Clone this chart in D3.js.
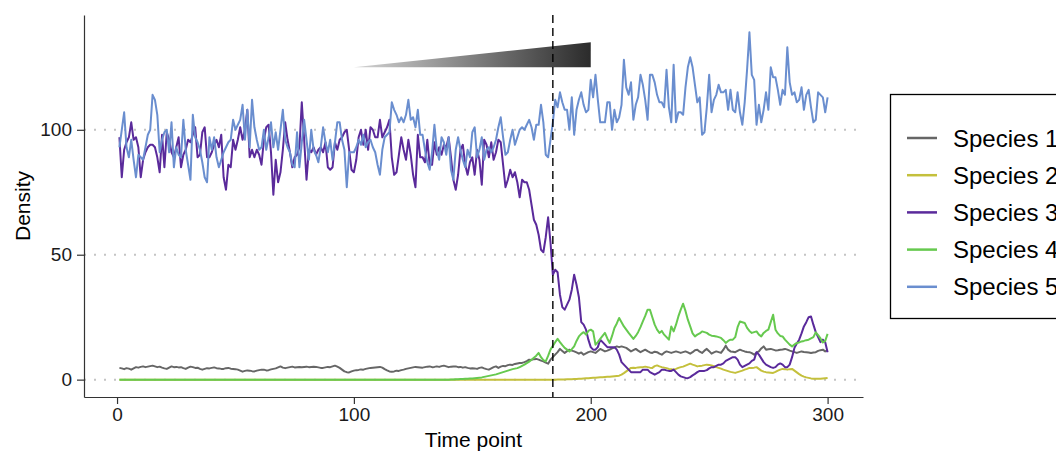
<!DOCTYPE html>
<html>
<head>
<meta charset="utf-8">
<script src="https://cdn.jsdelivr.net/npm/d3@7"></script>
<style>
  body { margin: 0; background: #fff; }
  svg { display: block; font-family: "Liberation Sans", Arial, Helvetica, sans-serif; }
</style>
</head>
<body>
<svg id="chart" width="1056" height="452"></svg>
<script>
const SPECIES = ["Species 1", "Species 2", "Species 3", "Species 4", "Species 5"];
const COLORS  = ["#666666", "#c4c03c", "#5a2a9b", "#66c94f", "#6a8ecf"];

// time points 1..300
const timePoints = d3.range(1, 301);

const species1 = [
  4.7,4.5,4.2,4.6,4.4,4.0,4.5,5.0,4.8,5.1, 5.3,5.0,5.2,5.4,5.6,5.3,5.0,5.2,4.8,4.5,
  4.3,4.8,5.3,5.0,5.1,4.9,5.0,4.6,4.3,4.8, 5.2,5.0,4.7,4.8,4.3,4.0,4.3,4.6,4.5,4.7,
  4.9,4.6,4.5,4.3,4.3,4.6,4.7,4.4,4.3,4.2, 4.0,3.6,3.2,3.5,3.7,3.6,3.4,3.3,3.6,3.8,
  4.0,4.0,3.7,3.8,4.1,4.3,4.5,4.9,5.3,4.8, 4.6,4.8,5.0,5.2,4.9,5.0,5.1,5.0,5.1,5.2,
  5.0,5.1,5.2,5.1,4.9,4.7,4.7,4.9,5.1,5.0, 5.3,5.6,5.2,4.7,4.0,3.3,3.0,2.9,3.3,3.6,
  3.8,3.9,4.1,4.0,4.3,4.5,4.7,4.8,4.9,5.0, 5.1,4.8,4.2,3.7,3.3,3.2,3.3,3.6,3.5,3.8,
  4.0,4.3,4.5,4.7,4.9,5.1,5.0,4.9,4.8,5.0, 5.2,5.3,5.0,5.1,5.3,5.1,5.4,5.6,5.3,5.0,
  5.2,5.3,5.3,5.0,5.1,4.8,5.0,4.7,4.5,4.6, 4.5,4.3,4.7,4.9,4.5,4.2,4.0,4.5,5.0,5.3,
  4.7,5.2,5.5,5.4,5.8,6.0,5.9,6.3,6.5,6.7, 6.7,7.0,7.4,8.0,7.9,8.2,8.3,8.0,7.6,7.3,
  6.8,6.4,8.0,9.0,10.0,11.0,12.3,11.5,10.7,11.4, 12.0,11.6,11.3,10.9,10.4,10.9,10.0,10.5,11.0,11.3,
  11.0,10.7,11.5,12.3,11.8,11.3,11.6,12.0,12.5,12.8, 13.3,13.0,13.3,13.0,12.7,12.0,11.3,11.8,12.3,11.6,
  11.0,11.5,12.0,11.4,10.9,10.7,11.2,11.0,10.4,10.0, 10.8,11.3,11.0,10.7,11.0,11.3,11.0,10.7,11.0,11.3,
  10.9,10.4,11.0,11.8,12.0,11.2,10.7,11.6,12.3,11.4, 10.4,10.9,11.3,11.0,10.7,12.0,13.6,12.0,11.3,11.2,
  11.0,11.5,12.0,11.6,11.3,11.1,11.0,10.6,10.0,10.8, 11.3,12.5,13.3,12.0,12.2,12.3,12.0,11.7,11.8,12.0,
  12.1,12.3,12.0,11.6,11.3,11.0,10.7,11.0,11.3,11.1, 11.0,10.9,10.7,10.9,11.0,11.5,11.8,12.0,11.3,11.7
];

const species2 = [
  0,0,0,0,0,0,0,0,0,0, 0,0,0,0,0,0,0,0,0,0, 0,0,0,0,0,0,0,0,0,0, 0,0,0,0,0,0,0,0,0,0,
  0,0,0,0,0,0,0,0,0,0, 0,0,0,0,0,0,0,0,0,0, 0,0,0,0,0,0,0,0,0,0, 0,0,0,0,0,0,0,0,0,0,
  0,0,0,0,0,0,0,0,0,0, 0,0,0,0,0,0,0,0,0,0, 0,0,0,0,0,0,0,0,0,0, 0,0,0,0,0,0,0,0,0,0,
  0,0,0,0,0,0,0,0,0,0, 0,0,0,0,0,0,0,0,0,0, 0,0,0,0,0,0,0,0,0,0, 0,0,0,0,0,0,0,0,0,0,
  0,0,0,0,0,0,0,0,0,0, 0,0,0,0,0,0,0,0,0,0, 0,0,0,0,0,
  0.05,0.05,0.1,0.1,0.15,0.2,0.2,0.25,0.3,0.35,
  0.4,0.5,0.55,0.6,0.7,0.75,0.8,0.9,0.95,1.0,
  1.1,1.15,1.2,1.3,1.4,1.5,1.6,2.0,2.6,3.3,
  4.0,4.7,4.8,4.7,4.9,5.0,5.0,5.2,5.0,4.8,
  4.7,5.4,5.7,5.3,5.0,4.8,4.6,4.3,4.2,4.0,
  4.3,4.7,5.0,5.2,5.6,6.0,6.4,6.0,5.7,5.3,
  5.5,5.6,5.8,6.0,5.9,5.7,5.4,5.0,4.7,4.4,
  4.0,3.7,3.4,3.1,2.9,2.7,3.0,3.3,3.6,4.0,
  4.3,4.7,4.7,4.8,5.0,4.3,3.6,3.2,3.0,2.9,
  2.8,2.7,3.1,3.6,4.0,4.3,4.2,4.0,4.2,4.3,
  3.6,2.9,2.2,1.6,1.2,0.9,0.7,0.5,0.4,0.4,
  0.4,0.4,0.5,0.6,0.7
];

const species3 = [
  97,81,92,95,97,103,96,97,93,81, 88,91,93,94,94,93,89,83,98,85,
  99,96,91,89,93,97,85,90,92,96, 95,98,101,89,90,99,101,89,89,91,
  94,96,93,98,81,76,86,85,96,92, 96,101,96,100,108,89,92,89,92,90,
  86,96,101,102,91,74,88,79,83,92, 103,96,91,85,89,90,93,111,96,80,
  92,91,93,90,92,93,91,95,85,84, 85,95,92,96,97,99,100,92,84,83,
  88,97,100,94,100,92,101,100,97,97, 104,97,99,101,104,89,82,83,90,97,
  92,88,96,90,82,77,98,89,89,87, 96,86,86,95,90,93,90,94,93,97,
  89,80,76,82,92,94,86,82,87,89, 82,92,88,78,96,94,89,95,88,91,
  96,95,86,77,80,84,81,83,79,73, 80,79,79,76,70,64,62,58,52,51,
  57,65,55,42,44,43,34,29,28,30, 32,36,42,38,33,23,22,20,16,13,
  12,12,13,16,15,14,13,13,13,13, 12,10,7,6,5,4,3,3,3,3,
  3,4,4,4,3,2.5,2,2.5,3,4, 4,3.7,3.5,3.5,4,3,2,1.3,1,0.7,
  0.6,1,1.7,2.3,3,3.5,3.5,3.5,3.8,4.5, 5,5,5.5,6,6,6.5,7.5,8,8.5,9,
  9,8,6,5,5.5,6,6.5,7.5,8,11, 10,8.5,7,6,5.5,5,4.7,5,6,6.5,
  6,5,5,6,9,12.7,14.5,16,18.5,21.3, 23,25,25.3,22,19,17,15,16,15,11
];

const species4 = [
  0,0,0,0,0,0,0,0,0,0, 0,0,0,0,0,0,0,0,0,0, 0,0,0,0,0,0,0,0,0,0, 0,0,0,0,0,0,0,0,0,0,
  0,0,0,0,0,0,0,0,0,0, 0,0,0,0,0,0,0,0,0,0, 0,0,0,0,0,0,0,0,0,0, 0,0,0,0,0,0,0,0,0,0,
  0,0,0,0,0,0,0,0,0,0, 0,0,0,0,0,0,0,0,0,0, 0,0,0,0,0,0,0,0,0,0, 0,0,0,0,0,0,0,0,0,0,
  0,0,0,0,0,0,0,0,0,0, 0,0,0,0,0,0,0,0,0,0,
  0.1,0.1,0.2,0.2,0.3,0.3,0.4,0.4,0.5,0.5,
  0.6,0.7,0.8,0.9,1.1,1.3,1.5,1.7,1.9,2.1,
  2.4,2.7,3.0,3.3,3.6,3.9,4.2,4.4,4.6,5.0,
  5.5,6.0,6.6,7.2,8.0,8.8,9.6,10.7,9.0,7.8,
  7.3,9.5,12,13.5,15,16.3,15,13.8,12.7,12,
  11.3,12.2,13.3,15.5,17.3,18.3,19,18,19.5,20,
  19.3,14,15,16.3,17.5,18.7,16.5,14.7,17.5,20.7,
  22.5,24.7,23,21.3,20,18.7,17.5,16.3,17.5,19,
  21,23.3,25.5,28,28,25,22,20,18.7,19.5,
  18,17,16,21.3,19.3,22,25.3,28,30.4,27.5,
  24,21.3,18.5,17.3,18,18.5,19.3,19,18.7,18,
  17.6,17.5,17.3,17,16.7,15.8,14.7,15.5,16,16,
  17,21,23.3,23,22.7,20.7,19.5,18.7,19,19.3,
  18,17.3,18.7,19.5,20,23,26,20,18.5,17.5,
  17.3,16,15,14,13.3,14,14.7,14.9,15.3,15.5,
  15.8,16,16.5,17,18.9,17.8,16.5,14.9,15.5,18.3
];

const species5 = [
  93,100,107,93,89,96,88,81,90,89, 88,93,98,100,114,112,106,91,96,99,
  100,91,103,85,93,90,89,104,92,86, 80,106,97,95,92,87,81,79,97,92,
  97,89,85,88,91,93,95,96,104,100, 102,104,110,96,108,93,112,101,96,92,
  93,100,92,97,103,93,99,92,100,108, 96,93,91,86,85,99,85,95,104,96,
  88,100,92,90,87,93,101,95,91,96, 88,95,103,103,96,92,77,91,91,91,
  93,96,94,98,93,95,96,93,91,86, 82,92,97,98,99,111,108,106,103,105,
  103,106,112,104,105,101,108,98,98,92, 87,84,91,102,92,88,97,95,90,97,
  84,80,92,97,92,88,85,92,89,99, 101,89,92,97,88,92,93,91,93,96,
  101,105,97,90,91,96,100,94,97,100, 101,100,102,104,101,96,102,102,110,103,
  90,89,96,103,112,109,115,111,108,108, 100,113,98,108,112,115,110,107,108,120,
  113,122,112,103,103,103,111,111,100,108, 103,105,110,128,117,114,119,104,110,113,
  122,118,112,104,122,122,119,114,111,111, 109,124,109,103,126,103,107,107,106,117,
  125,129,125,118,111,113,98,99,109,122, 107,112,114,118,115,115,116,108,116,108,
  107,115,107,102,111,124,139,122,120,102, 110,103,108,115,108,125,121,121,116,110,
  116,114,133,119,114,115,111,112,117,108, 114,116,109,103,104,115,114,113,107,113
];

const seriesValues = [species1, species2, species3, species4, species5];

const yTicks = [0, 50, 100];
const xTicks = [0, 100, 200, 300];
const shiftTime = 184;
// ramp annotation: time from..to, density low..high
const rampTime = [100, 200];
const rampDensity = [125, 135];

const W = 1056, H = 452;
const panel = { l: 84, r: 863, t: 15, b: 397 };

const svg = d3.select("#chart");

// ggplot-style 5% expansion
const tExt = d3.extent(timePoints);
const tPad = (tExt[1] - tExt[0]) * 0.05;
const x = d3.scaleLinear().domain([tExt[0] - tPad, tExt[1] + tPad]).range([panel.l, panel.r]);

const vExt = d3.extent(seriesValues.flat());
const vPad = (vExt[1] - vExt[0]) * 0.05;
const y = d3.scaleLinear().domain([vExt[0] - vPad, vExt[1] + vPad]).range([panel.b, panel.t]);

// dotted horizontal grid
svg.append("g").selectAll("line").data(yTicks).join("line")
  .attr("x1", panel.l).attr("x2", panel.r)
  .attr("y1", d => y(d)).attr("y2", d => y(d))
  .attr("stroke", "#c4c4c4").attr("stroke-width", 2)
  .attr("stroke-dasharray", "2 8");

// series lines
const line = d3.line()
  .x((d, i) => x(timePoints[i]))
  .y(d => y(d));

svg.append("g").selectAll("path").data(seriesValues).join("path")
  .attr("d", line)
  .attr("fill", "none")
  .attr("stroke", (d, i) => COLORS[i])
  .attr("stroke-width", 2)
  .attr("stroke-linejoin", "round");

// gradient ramp
const defs = svg.append("defs");
const grad = defs.append("linearGradient").attr("id", "ramp")
  .attr("gradientUnits", "userSpaceOnUse")
  .attr("x1", x(rampTime[0])).attr("x2", x(rampTime[1]))
  .attr("y1", 0).attr("y2", 0);
grad.append("stop").attr("offset", "0%").attr("stop-color", "#d4d4d4");
grad.append("stop").attr("offset", "100%").attr("stop-color", "#2b2b2b");

svg.append("path")
  .attr("d", d3.line()([
    [x(rampTime[0]), y(rampDensity[0])],
    [x(rampTime[1]), y(rampDensity[0])],
    [x(rampTime[1]), y(rampDensity[1])]
  ]) + "Z")
  .attr("fill", "url(#ramp)");

// shift marker
svg.append("line")
  .attr("x1", x(shiftTime)).attr("x2", x(shiftTime))
  .attr("y1", panel.t).attr("y2", panel.b)
  .attr("stroke", "#000").attr("stroke-width", 1.4)
  .attr("stroke-dasharray", "8 5");

// axes
const xAxisG = svg.append("g").attr("transform", `translate(0,${panel.b})`)
  .call(d3.axisBottom(x).tickValues(xTicks).tickSize(7).tickPadding(4).tickSizeOuter(0));
const yAxisG = svg.append("g").attr("transform", `translate(${panel.l},0)`)
  .call(d3.axisLeft(y).tickValues(yTicks).tickSize(7).tickPadding(5).tickSizeOuter(0));

[xAxisG, yAxisG].forEach(g => {
  g.select(".domain").attr("stroke", "#333").attr("stroke-width", 1.2);
  g.selectAll(".tick line").attr("stroke", "#333").attr("stroke-width", 1.2);
  g.selectAll("text").attr("font-size", 19).attr("fill", "#1a1a1a")
    .attr("font-family", "Liberation Sans, Arial, sans-serif");
});

// axis titles
svg.append("text")
  .attr("x", (panel.l + panel.r) / 2).attr("y", 447)
  .attr("text-anchor", "middle").attr("font-size", 21).attr("fill", "#000")
  .text("Time point");
svg.append("text")
  .attr("transform", `translate(29.5,${(panel.t + panel.b) / 2}) rotate(-90)`)
  .attr("text-anchor", "middle").attr("font-size", 21).attr("fill", "#000")
  .text("Density");

// legend
const legend = svg.append("g").attr("transform", "translate(890,94)");
legend.append("rect")
  .attr("x", 0.5).attr("y", 0.5).attr("width", 220).attr("height", 224)
  .attr("fill", "#fff").attr("stroke", "#000").attr("stroke-width", 1.3);

const rows = legend.selectAll("g.row").data(SPECIES).join("g")
  .attr("class", "row")
  .attr("transform", (d, i) => `translate(0,${44 + i * 37.2})`);
rows.append("line")
  .attr("x1", 17).attr("x2", 47)
  .attr("stroke", (d, i) => COLORS[i]).attr("stroke-width", 2.5);
rows.append("text")
  .attr("x", 63).attr("dy", "0.36em")
  .attr("font-size", 24).attr("fill", "#000")
  .text(d => d);
</script>
</body>
</html>
